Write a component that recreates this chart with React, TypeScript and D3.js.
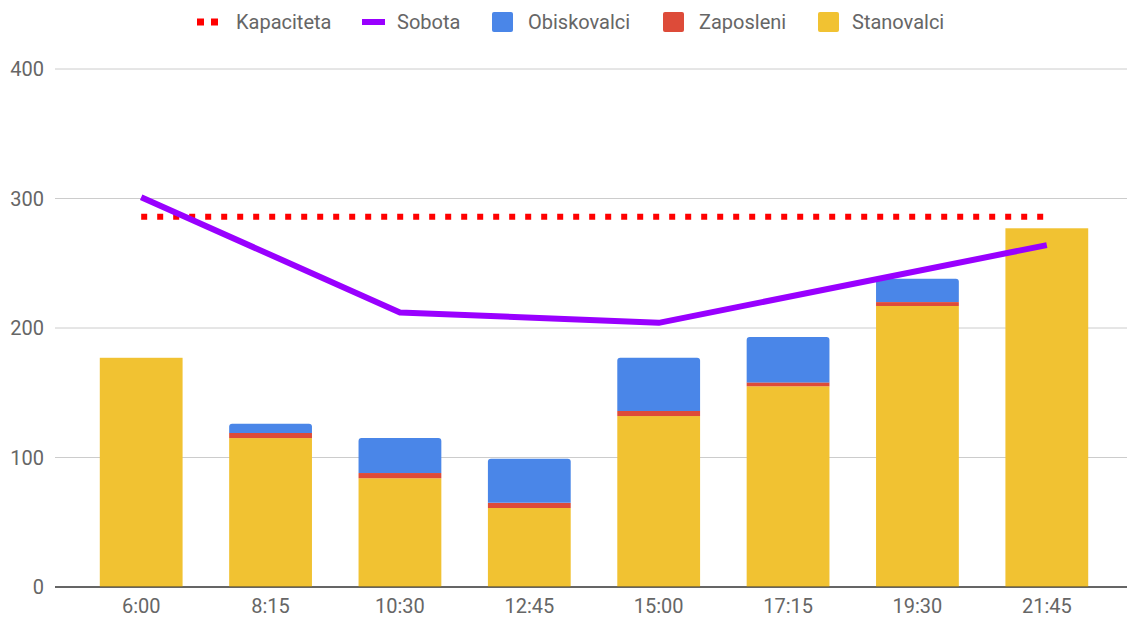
import { useEffect, useRef } from 'react';
import * as d3 from 'd3';

// data
const times = ['6:00', '8:15', '10:30', '12:45', '15:00', '17:15', '19:30', '21:45'];
const stanovalci = [177, 115, 84, 61, 132, 155, 217, 277];
const zaposleni = [0, 4, 4, 4, 4, 3, 3, 0];
const obiskovalci = [0, 7, 27, 34, 41, 35, 18, 0];
const sobota: (number | null)[] = [301, null, 212, null, 204, null, null, 264];
const kapaciteta = [286, 286, 286, 286, 286, 286, 286, 286];
const yTicks = [0, 100, 200, 300, 400];

const W = 1127;
const H = 617;
const FONT = 'Roboto, "Noto Sans", sans-serif';

const stackKeys = ['stanovalci', 'zaposleni', 'obiskovalci'] as const;
const stackColors: Record<string, string> = {
  stanovalci: '#f1c232',
  zaposleni: '#dd4b39',
  obiskovalci: '#4a86e8',
};

export default function App() {
  const svgRef = useRef<SVGSVGElement>(null);

  useEffect(() => {
    if (!svgRef.current) return;
    const svg = d3.select(svgRef.current);
    svg.selectAll('*').remove();

    const plotLeft = 55;
    const plotRight = 1127;
    const x = d3.scaleBand<string>().domain(times).range([76.5, 1111.5]).paddingInner(0.36).paddingOuter(0.18);
    const y = d3.scaleLinear().domain([0, 400]).range([587, 69]);
    const cx = (t: string) => (x(t) ?? 0) + x.bandwidth() / 2;

    // grid + y labels
    const grid = svg.append('g');
    yTicks.forEach((t) => {
      grid.append('line')
        .attr('x1', plotLeft).attr('x2', plotRight)
        .attr('y1', y(t)).attr('y2', y(t))
        .attr('stroke', t === 0 ? '#333' : '#ccc')
        .attr('stroke-width', 1);
      grid.append('text')
        .attr('x', 44).attr('y', y(t))
        .attr('dy', '0.35em')
        .attr('text-anchor', 'end')
        .attr('font-family', FONT).attr('font-size', 20)
        .attr('fill', '#666')
        .text(t);
    });

    // stacked bars
    const rows = times.map((t, i) => ({
      time: t,
      stanovalci: stanovalci[i],
      zaposleni: zaposleni[i],
      obiskovalci: obiskovalci[i],
    }));
    const series = d3.stack<any>().keys(stackKeys as unknown as string[])(rows);
    const bars = svg.append('g');
    series.forEach((s) => {
      s.forEach((d) => {
        const v = d[1] - d[0];
        if (v <= 0) return;
        const time = d.data.time;
        const row = rows.find((r) => r.time === time)!;
        const topKey = [...stackKeys].reverse().find((k) => (row as any)[k] > 0);
        const x0 = x(time) ?? 0;
        const bw = x.bandwidth();
        const y0 = y(d[0]);
        const y1 = y(d[1]);
        if (topKey === s.key && s.key !== 'stanovalci') {
          const r = 3;
          const p = `M${x0},${y0}V${y1 + r}Q${x0},${y1} ${x0 + r},${y1}H${x0 + bw - r}Q${x0 + bw},${y1} ${x0 + bw},${y1 + r}V${y0}Z`;
          bars.append('path').attr('d', p).attr('fill', stackColors[s.key]);
        } else {
          bars.append('rect')
            .attr('x', x0).attr('width', bw)
            .attr('y', y1).attr('height', y0 - y1)
            .attr('fill', stackColors[s.key]);
        }
      });
    });
    // baseline above bars
    svg.append('line')
      .attr('x1', plotLeft).attr('x2', plotRight)
      .attr('y1', y(0)).attr('y2', y(0))
      .attr('stroke', '#333').attr('stroke-width', 1);

    // x labels
    svg.append('g').selectAll('text').data(times).join('text')
      .attr('x', (d) => cx(d)).attr('y', 613)
      .attr('text-anchor', 'middle')
      .attr('font-family', FONT).attr('font-size', 20)
      .attr('fill', '#666')
      .text((d) => d);

    // Kapaciteta dotted line
    const kapLine = d3.line<number>().x((_, i) => cx(times[i])).y((d) => y(d));
    svg.append('path')
      .attr('d', kapLine(kapaciteta))
      .attr('fill', 'none')
      .attr('stroke', '#ff0000')
      .attr('stroke-width', 6)
      .attr('stroke-dasharray', '6,10');

    // Sobota line (nulls skipped, points connected)
    const sobPts = sobota
      .map((v, i) => ({ t: times[i], v }))
      .filter((d) => d.v !== null) as { t: string; v: number }[];
    const sobLine = d3.line<{ t: string; v: number }>().x((d) => cx(d.t)).y((d) => y(d.v));
    svg.append('path')
      .attr('d', sobLine(sobPts))
      .attr('fill', 'none')
      .attr('stroke', '#9900ff')
      .attr('stroke-width', 6)
      .attr('stroke-linejoin', 'round');

    // legend
    const lg = svg.append('g').attr('font-family', FONT).attr('font-size', 20).attr('fill', '#666');
    const ly = 22;
    lg.append('line')
      .attr('x1', 197).attr('x2', 219).attr('y1', ly).attr('y2', ly)
      .attr('stroke', '#ff0000').attr('stroke-width', 7).attr('stroke-dasharray', '7,7');
    lg.append('text').attr('x', 236).attr('y', ly).attr('dy', '0.35em').text('Kapaciteta');
    lg.append('line')
      .attr('x1', 362).attr('x2', 385).attr('y1', ly).attr('y2', ly)
      .attr('stroke', '#9900ff').attr('stroke-width', 6);
    lg.append('text').attr('x', 397).attr('y', ly).attr('dy', '0.35em').text('Sobota');
    const sq = [
      { x: 492, tx: 528, c: stackColors.obiskovalci, label: 'Obiskovalci' },
      { x: 663, tx: 699, c: stackColors.zaposleni, label: 'Zaposleni' },
      { x: 818, tx: 852, c: stackColors.stanovalci, label: 'Stanovalci' },
    ];
    sq.forEach((d) => {
      lg.append('rect').attr('x', d.x).attr('y', ly - 10).attr('width', 21).attr('height', 20)
        .attr('rx', 2).attr('fill', d.c);
      lg.append('text').attr('x', d.tx).attr('y', ly).attr('dy', '0.35em').text(d.label);
    });
  }, []);

  return (
    <div style={{ position: 'absolute', left: 0, top: 0, width: W, height: H, background: '#fff' }}>
      <svg ref={svgRef} width={W} height={H} style={{ display: 'block' }} />
    </div>
  );
}
